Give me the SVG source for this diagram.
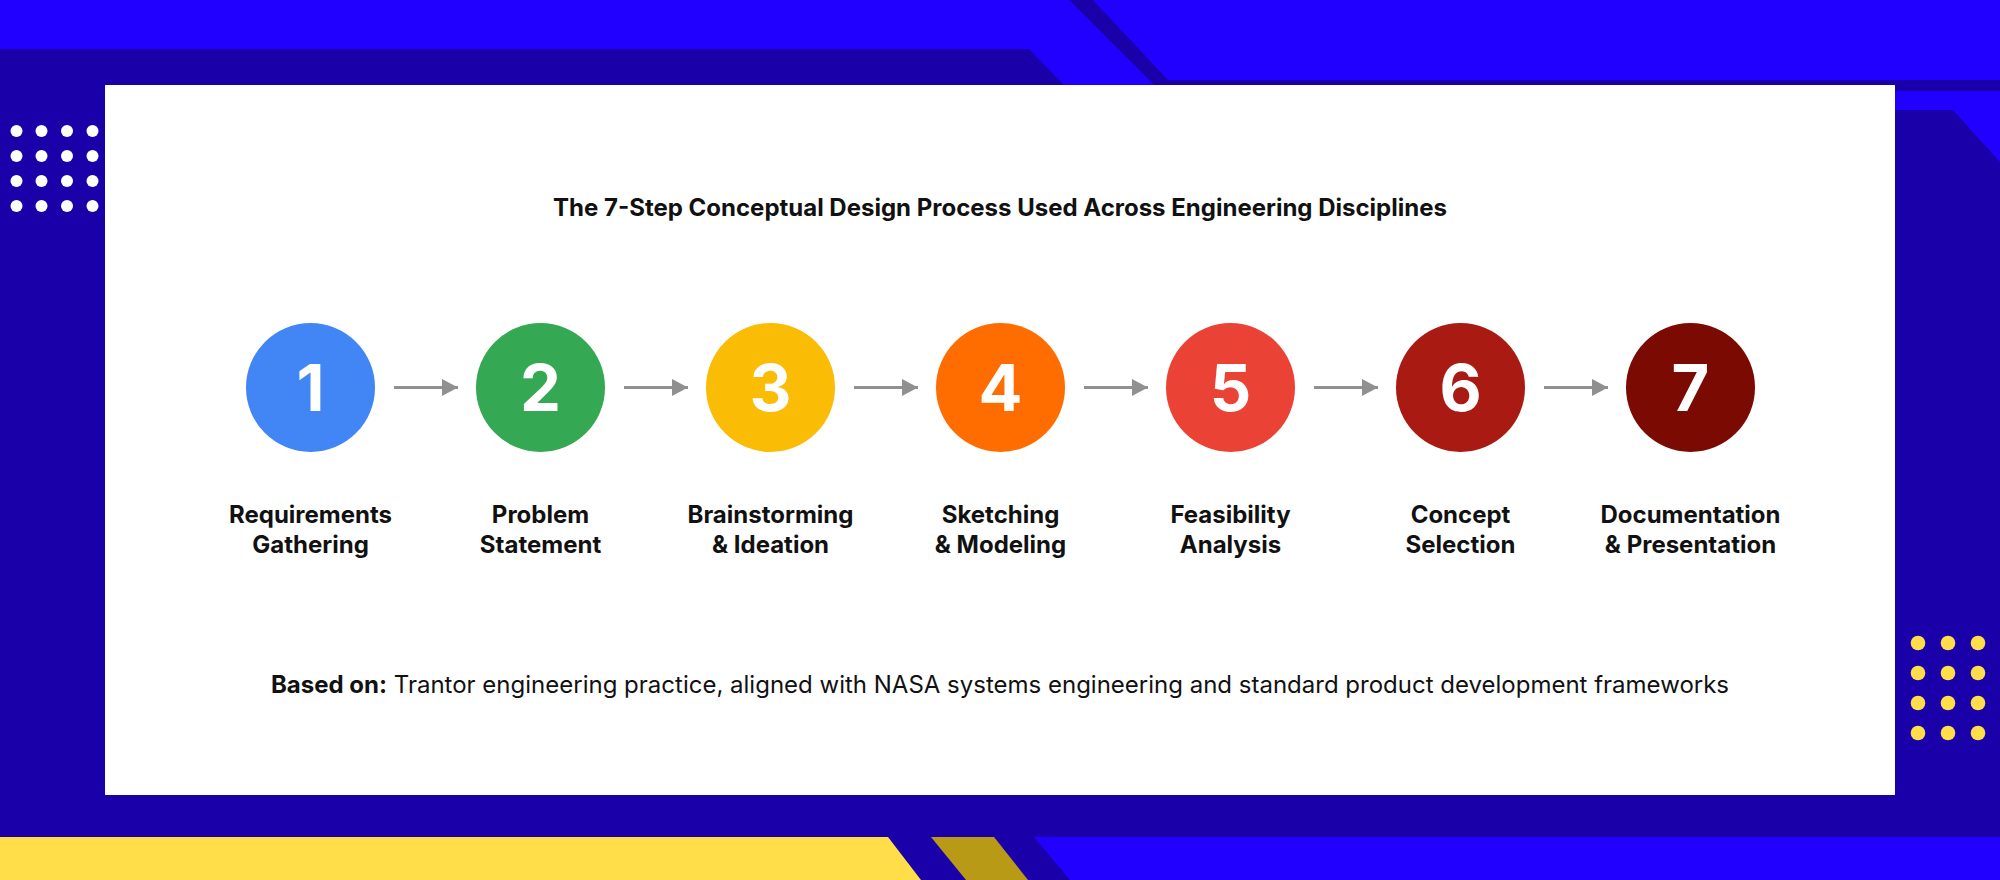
<svg xmlns="http://www.w3.org/2000/svg" width="2000" height="880" viewBox="0 0 2000 880">
<defs>
<style>
.t{font-family:Inter,"Liberation Sans",sans-serif;fill:#111111}
.num{font-family:Inter,"Liberation Sans",sans-serif;font-weight:700;font-size:65px;fill:#ffffff;text-anchor:middle}
.lbl{font-family:Inter,"Liberation Sans",sans-serif;font-weight:700;font-size:24px;fill:#111111;text-anchor:middle}
.arr{stroke:#909090;stroke-width:3;fill:none}
.wd{fill:#ffffff}
.yd{fill:#FFDE4A}
</style>
<marker id="ah" viewBox="0 0 16 17" refX="16" refY="8.5" markerWidth="16" markerHeight="17" markerUnits="userSpaceOnUse" orient="auto">
<path d="M0,0 L16,8.5 L0,17 Z" fill="#909090"/>
</marker>
</defs>
<g id="background">
<rect x="0" y="0" width="2000" height="880" fill="#1A00A8"/>
<polygon points="0,0 1069,0 1154,85 1064,85 1029,49 0,49" fill="#2200FF"/>
<polygon points="1093,0 2000,0 2000,80 1168,80" fill="#2200FF"/>
<polygon points="1895,91 2000,91 2000,162 1953,110 1895,110" fill="#2200FF"/>
<polygon points="0,837 888,837 921,880 0,880" fill="#FFDE4A"/>
<polygon points="931,837 994,837 1028,880 966,880" fill="#B89A16"/>
<polygon points="1034,837 2000,837 2000,880 1070,880" fill="#2200FF"/>
</g>
<g id="dots-left">
<circle class="wd" cx="16.5" cy="131" r="6"/><circle class="wd" cx="41.5" cy="131" r="6"/><circle class="wd" cx="67" cy="131" r="6"/><circle class="wd" cx="92.5" cy="131" r="6"/>
<circle class="wd" cx="16.5" cy="156" r="6"/><circle class="wd" cx="41.5" cy="156" r="6"/><circle class="wd" cx="67" cy="156" r="6"/><circle class="wd" cx="92.5" cy="156" r="6"/>
<circle class="wd" cx="16.5" cy="181" r="6"/><circle class="wd" cx="41.5" cy="181" r="6"/><circle class="wd" cx="67" cy="181" r="6"/><circle class="wd" cx="92.5" cy="181" r="6"/>
<circle class="wd" cx="16.5" cy="206" r="6"/><circle class="wd" cx="41.5" cy="206" r="6"/><circle class="wd" cx="67" cy="206" r="6"/><circle class="wd" cx="92.5" cy="206" r="6"/>
</g>
<g id="dots-right">
<circle class="yd" cx="1918" cy="643" r="7.3"/><circle class="yd" cx="1948" cy="643" r="7.3"/><circle class="yd" cx="1978" cy="643" r="7.3"/>
<circle class="yd" cx="1918" cy="673" r="7.3"/><circle class="yd" cx="1948" cy="673" r="7.3"/><circle class="yd" cx="1978" cy="673" r="7.3"/>
<circle class="yd" cx="1918" cy="703" r="7.3"/><circle class="yd" cx="1948" cy="703" r="7.3"/><circle class="yd" cx="1978" cy="703" r="7.3"/>
<circle class="yd" cx="1918" cy="733" r="7.3"/><circle class="yd" cx="1948" cy="733" r="7.3"/><circle class="yd" cx="1978" cy="733" r="7.3"/>
</g>
<g id="card">
<rect x="105" y="85" width="1790" height="710" fill="#ffffff"/>
<text class="t" x="1000" y="216" font-size="24" font-weight="700" text-anchor="middle">The 7-Step Conceptual Design Process Used Across Engineering Disciplines</text>
<text class="t" x="1000" y="692.5" font-size="24" text-anchor="middle"><tspan font-weight="700">Based on:</tspan> Trantor engineering practice, aligned with NASA systems engineering and standard product development frameworks</text>
</g>
<g id="connectors">
<line class="arr" x1="394" y1="387.5" x2="458" y2="387.5" marker-end="url(#ah)"/>
<line class="arr" x1="624" y1="387.5" x2="688" y2="387.5" marker-end="url(#ah)"/>
<line class="arr" x1="854" y1="387.5" x2="918" y2="387.5" marker-end="url(#ah)"/>
<line class="arr" x1="1084" y1="387.5" x2="1148" y2="387.5" marker-end="url(#ah)"/>
<line class="arr" x1="1314" y1="387.5" x2="1378" y2="387.5" marker-end="url(#ah)"/>
<line class="arr" x1="1544" y1="387.5" x2="1608" y2="387.5" marker-end="url(#ah)"/>
</g>
<g id="step1">
<circle cx="310.5" cy="387.5" r="64.5" fill="#4285F4"/>
<text class="num" x="310.5" y="410.5">1</text>
<text class="lbl" x="310.5" y="522.5">Requirements</text>
<text class="lbl" x="310.5" y="552.5">Gathering</text>
</g>
<g id="step2">
<circle cx="540.5" cy="387.5" r="64.5" fill="#34A853"/>
<text class="num" x="540.5" y="410.5">2</text>
<text class="lbl" x="540.5" y="522.5">Problem</text>
<text class="lbl" x="540.5" y="552.5">Statement</text>
</g>
<g id="step3">
<circle cx="770.5" cy="387.5" r="64.5" fill="#FBBC05"/>
<text class="num" x="770.5" y="410.5">3</text>
<text class="lbl" x="770.5" y="522.5">Brainstorming</text>
<text class="lbl" x="770.5" y="552.5">&amp; Ideation</text>
</g>
<g id="step4">
<circle cx="1000.5" cy="387.5" r="64.5" fill="#FF6D00"/>
<text class="num" x="1000.5" y="410.5">4</text>
<text class="lbl" x="1000.5" y="522.5">Sketching</text>
<text class="lbl" x="1000.5" y="552.5">&amp; Modeling</text>
</g>
<g id="step5">
<circle cx="1230.5" cy="387.5" r="64.5" fill="#EA4335"/>
<text class="num" x="1230.5" y="410.5">5</text>
<text class="lbl" x="1230.5" y="522.5">Feasibility</text>
<text class="lbl" x="1230.5" y="552.5">Analysis</text>
</g>
<g id="step6">
<circle cx="1460.5" cy="387.5" r="64.5" fill="#A91B12"/>
<text class="num" x="1460.5" y="410.5">6</text>
<text class="lbl" x="1460.5" y="522.5">Concept</text>
<text class="lbl" x="1460.5" y="552.5">Selection</text>
</g>
<g id="step7">
<circle cx="1690.5" cy="387.5" r="64.5" fill="#7B0A02"/>
<text class="num" x="1690.5" y="410.5">7</text>
<text class="lbl" x="1690.5" y="522.5">Documentation</text>
<text class="lbl" x="1690.5" y="552.5">&amp; Presentation</text>
</g>
</svg>
